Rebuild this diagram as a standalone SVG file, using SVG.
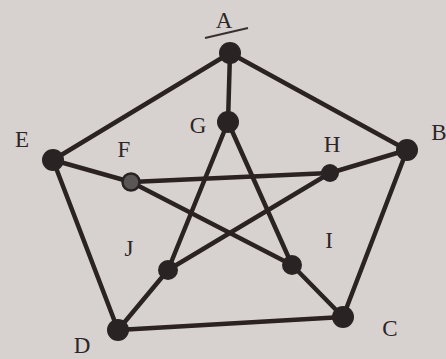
<svg xmlns="http://www.w3.org/2000/svg" width="446" height="359" viewBox="0 0 446 359">
<style>
.e{stroke:#2b2222;stroke-width:4.5;stroke-linecap:round;fill:none}
.n{fill:#2a2323}
.ng{fill:#5a5656;stroke:#2a2323;stroke-width:2.5}
.l{font-family:"Liberation Serif",serif;font-size:23px;fill:#2c2626;text-anchor:middle}
</style>
<rect width="446" height="359" fill="#d7d1cf"/>
<g id="connectors">
<line class="e" x1="230" y1="53" x2="407" y2="150"/>
<line class="e" x1="407" y1="150" x2="343" y2="317"/>
<line class="e" x1="343" y1="317" x2="118" y2="330"/>
<line class="e" x1="118" y1="330" x2="53" y2="160"/>
<line class="e" x1="53" y1="160" x2="230" y2="53"/>
<line class="e" x1="230" y1="53" x2="228" y2="122"/>
<line class="e" x1="407" y1="150" x2="330" y2="173"/>
<line class="e" x1="343" y1="317" x2="292" y2="265"/>
<line class="e" x1="118" y1="330" x2="168" y2="270"/>
<line class="e" x1="53" y1="160" x2="131" y2="182"/>
<line class="e" x1="228" y1="122" x2="168" y2="270"/>
<line class="e" x1="228" y1="122" x2="292" y2="265"/>
<line class="e" x1="131" y1="182" x2="330" y2="173"/>
<line class="e" x1="131" y1="182" x2="292" y2="265"/>
<line class="e" x1="330" y1="173" x2="168" y2="270"/>
</g>
<line x1="205" y1="38" x2="248" y2="28" stroke="#3a3030" stroke-width="2"/>
<g id="A"><circle class="n" cx="230" cy="53" r="11"/><text class="l" x="224" y="28">A</text></g>
<g id="B"><circle class="n" cx="407" cy="150" r="11"/><text class="l" x="439" y="140">B</text></g>
<g id="C"><circle class="n" cx="343" cy="317" r="11"/><text class="l" x="390" y="336">C</text></g>
<g id="D"><circle class="n" cx="118" cy="330" r="11"/><text class="l" x="82" y="353">D</text></g>
<g id="E"><circle class="n" cx="53" cy="160" r="11"/><text class="l" x="22" y="147">E</text></g>
<g id="F"><circle class="ng" cx="131" cy="182" r="8.5"/><text class="l" x="124" y="157">F</text></g>
<g id="G"><circle class="n" cx="228" cy="122" r="11"/><text class="l" x="198" y="133">G</text></g>
<g id="H"><circle class="n" cx="330" cy="173" r="9"/><text class="l" x="332" y="152">H</text></g>
<g id="I"><circle class="n" cx="292" cy="265" r="10"/><text class="l" x="329" y="248">I</text></g>
<g id="J"><circle class="n" cx="168" cy="270" r="10"/><text class="l" x="129" y="256">J</text></g>
</svg>
